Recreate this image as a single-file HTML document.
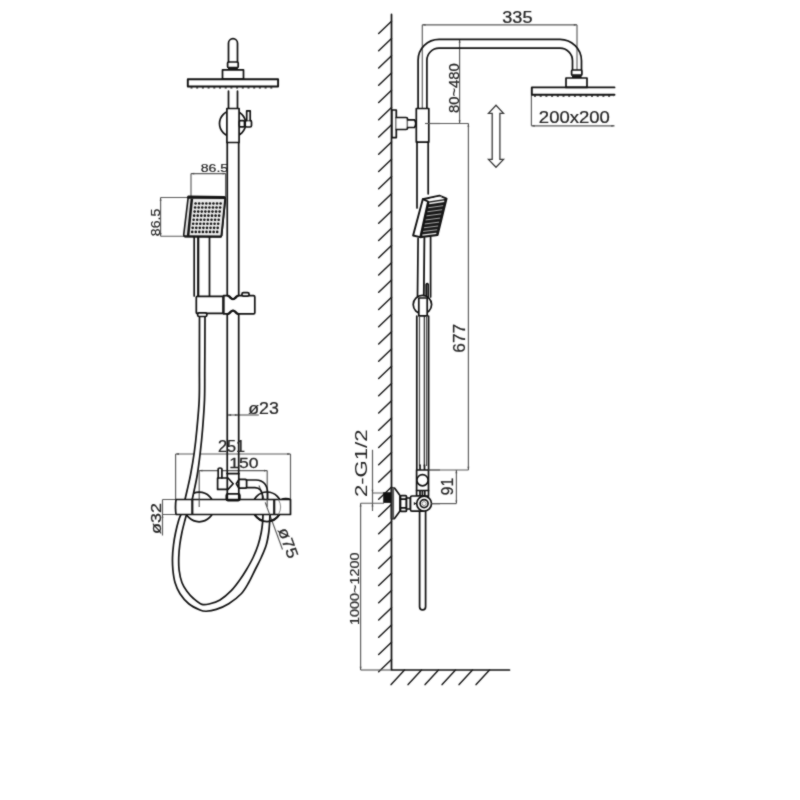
<!DOCTYPE html>
<html lang="en">
<head>
<meta charset="utf-8">
<title>Shower column dimensions</title>
<style>
html,body{margin:0;padding:0;background:#fff}
body{width:800px;height:800px;overflow:hidden}
svg{display:block}
.o{stroke:#101010;stroke-width:1.7;fill:none;stroke-linejoin:round;stroke-linecap:round}
.w{fill:#fff}
.k{stroke-width:1.9}
.h{stroke:#1c1c1c;stroke-width:1.5;fill:none;stroke-linecap:round}
.d{stroke:#5a5a5a;stroke-width:1.15;fill:none}
.a{fill:#444;stroke:none}
.t{font-family:"Liberation Sans",sans-serif;font-size:100px;fill:#222;stroke:#222}
</style>
</head>
<body>
<svg width="800" height="800" viewBox="0 0 800 800">
<defs><filter id="soft" filterUnits="userSpaceOnUse" x="0" y="0" width="800" height="800" color-interpolation-filters="sRGB"><feConvolveMatrix order="3" kernelMatrix="1 2 1 2 14 2 1 2 1" edgeMode="duplicate" preserveAlpha="false"/></filter></defs>
<g id="drawing" filter="url(#soft)">
<rect width="800" height="800" fill="#fff"/>
<g id="front">
<g id="front-dims">
<path class="d" d="M191,173.6 H225.8"/><path class="a" d="M191.00,173.60 L194.20,172.70 L194.20,174.50 Z"/><path class="a" d="M225.80,173.60 L222.60,174.50 L222.60,172.70 Z"/>
<path class="d" d="M191,173.6 V196 M225.6,173.6 V197"/>
<path class="d" d="M160.6,197.5 V236.2"/><path class="a" d="M160.60,197.50 L161.50,200.70 L159.70,200.70 Z"/><path class="a" d="M160.60,236.20 L159.70,233.00 L161.50,233.00 Z"/>
<path class="d" d="M160.6,197.5 H188 M160.6,236.2 H184"/>
<path class="d" d="M228,415 H258.8"/>
<path class="a" d="M227.90,415.00 L231.10,414.10 L231.10,415.90 Z"/>
<path class="a" d="M238.10,415.00 L234.90,415.90 L234.90,414.10 Z"/>
<path class="d" d="M175.6,454 H290.5"/><path class="a" d="M175.60,454.00 L178.80,453.10 L178.80,454.90 Z"/><path class="a" d="M290.50,454.00 L287.30,454.90 L287.30,453.10 Z"/>
<path class="d" d="M175.6,454 V499.5 M290.5,454 V499.5"/>
<path class="d" d="M199.2,470.6 H267.2"/><path class="a" d="M199.20,470.60 L202.40,469.70 L202.40,471.50 Z"/><path class="a" d="M267.20,470.60 L264.00,471.50 L264.00,469.70 Z"/>
<path class="d" d="M199.2,470.6 V507 M267.2,470.6 V507"/>
<path class="d" d="M162.5,499.5 V535.6 M162.5,499.5 H175.5 M162.5,514.5 H175.5"/>
<path class="a" d="M162.50,514.50 L163.40,517.70 L161.60,517.70 Z"/>
<path class="d" d="M259,485.5 L282.5,549.5"/>
</g>
<circle class="o" cx="199.2" cy="507" r="14.8"/>
<circle class="o" cx="267" cy="506.6" r="14.6"/>
<path d="M181.00,514.50 C180.62,515.42 179.65,517.00 178.75,520.00 C177.85,523.00 176.47,528.33 175.60,532.50 C174.72,536.67 174.02,540.83 173.50,545.00 C172.98,549.17 172.60,553.33 172.50,557.50 C172.40,561.67 172.48,565.83 172.90,570.00 C173.32,574.17 173.82,578.54 175.00,582.50 C176.18,586.46 177.71,590.21 180.00,593.75 C182.29,597.29 185.42,601.04 188.75,603.75 C192.08,606.46 197.08,608.75 200.00,610.00 C202.92,611.25 203.54,611.35 206.25,611.25 C208.96,611.15 212.50,610.65 216.25,609.40 C220.00,608.15 224.58,606.36 228.75,603.75 C232.92,601.14 237.92,597.29 241.25,593.75 C244.58,590.21 246.46,586.46 248.75,582.50 C251.04,578.54 252.92,574.17 255.00,570.00 C257.08,565.83 259.38,561.67 261.25,557.50 C263.12,553.33 265.00,549.17 266.25,545.00 C267.50,540.83 268.19,536.25 268.75,532.50 C269.31,528.75 269.39,525.50 269.60,522.50 C269.81,519.50 269.93,515.83 270.00,514.50 L263.00,514.50 C262.93,515.83 262.89,519.50 262.60,522.50 C262.31,525.50 262.00,528.75 261.25,532.50 C260.50,536.25 259.46,540.83 258.10,545.00 C256.74,549.17 255.07,553.33 253.10,557.50 C251.12,561.67 248.48,566.25 246.25,570.00 C244.02,573.75 242.20,576.57 239.70,580.00 C237.20,583.43 234.53,587.27 231.25,590.60 C227.97,593.93 223.54,597.81 220.00,600.00 C216.46,602.19 213.02,603.02 210.00,603.75 C206.98,604.48 204.61,605.23 201.90,604.40 C199.19,603.57 196.25,600.94 193.75,598.75 C191.25,596.56 188.88,593.96 186.90,591.25 C184.93,588.54 183.20,586.04 181.90,582.50 C180.60,578.96 179.62,574.17 179.10,570.00 C178.57,565.83 178.64,561.67 178.75,557.50 C178.86,553.33 179.22,549.17 179.75,545.00 C180.28,540.83 181.03,536.67 181.90,532.50 C182.78,528.33 184.23,523.00 185.00,520.00 C185.77,517.00 186.25,515.42 186.50,514.50 Z" fill="#fff" stroke="none"/>
<path d="M199.50,316.50 C199.49,321.25 199.47,336.08 199.45,345.00 C199.43,353.92 199.44,360.83 199.40,370.00 C199.36,379.17 199.63,390.00 199.20,400.00 C198.77,410.00 197.62,421.25 196.80,430.00 C195.98,438.75 195.30,445.00 194.25,452.50 C193.20,460.00 191.68,468.75 190.50,475.00 C189.32,481.25 188.12,485.92 187.20,490.00 C186.28,494.08 185.37,497.92 185.00,499.50 L192.20,499.50 C192.54,497.92 193.41,494.08 194.25,490.00 C195.09,485.92 196.25,481.25 197.25,475.00 C198.25,468.75 199.38,460.00 200.25,452.50 C201.12,445.00 201.79,438.75 202.50,430.00 C203.21,421.25 204.12,410.00 204.50,400.00 C204.88,390.00 204.68,379.17 204.75,370.00 C204.82,360.83 204.86,353.92 204.90,345.00 C204.94,336.08 204.98,321.25 205.00,316.50 Z" fill="#fff" stroke="none"/>
<path class="o" d="M181.00,514.50 C180.62,515.42 179.65,517.00 178.75,520.00 C177.85,523.00 176.47,528.33 175.60,532.50 C174.72,536.67 174.02,540.83 173.50,545.00 C172.98,549.17 172.60,553.33 172.50,557.50 C172.40,561.67 172.48,565.83 172.90,570.00 C173.32,574.17 173.82,578.54 175.00,582.50 C176.18,586.46 177.71,590.21 180.00,593.75 C182.29,597.29 185.42,601.04 188.75,603.75 C192.08,606.46 197.08,608.75 200.00,610.00 C202.92,611.25 203.54,611.35 206.25,611.25 C208.96,611.15 212.50,610.65 216.25,609.40 C220.00,608.15 224.58,606.36 228.75,603.75 C232.92,601.14 237.92,597.29 241.25,593.75 C244.58,590.21 246.46,586.46 248.75,582.50 C251.04,578.54 252.92,574.17 255.00,570.00 C257.08,565.83 259.38,561.67 261.25,557.50 C263.12,553.33 265.00,549.17 266.25,545.00 C267.50,540.83 268.19,536.25 268.75,532.50 C269.31,528.75 269.39,525.50 269.60,522.50 C269.81,519.50 269.93,515.83 270.00,514.50 M186.50,514.50 C186.25,515.42 185.77,517.00 185.00,520.00 C184.23,523.00 182.78,528.33 181.90,532.50 C181.03,536.67 180.28,540.83 179.75,545.00 C179.22,549.17 178.86,553.33 178.75,557.50 C178.64,561.67 178.57,565.83 179.10,570.00 C179.62,574.17 180.60,578.96 181.90,582.50 C183.20,586.04 184.93,588.54 186.90,591.25 C188.88,593.96 191.25,596.56 193.75,598.75 C196.25,600.94 199.19,603.57 201.90,604.40 C204.61,605.23 206.98,604.48 210.00,603.75 C213.02,603.02 216.46,602.19 220.00,600.00 C223.54,597.81 227.97,593.93 231.25,590.60 C234.53,587.27 237.20,583.43 239.70,580.00 C242.20,576.57 244.02,573.75 246.25,570.00 C248.48,566.25 251.12,561.67 253.10,557.50 C255.07,553.33 256.74,549.17 258.10,545.00 C259.46,540.83 260.50,536.25 261.25,532.50 C262.00,528.75 262.31,525.50 262.60,522.50 C262.89,519.50 262.93,515.83 263.00,514.50 M199.50,316.50 C199.49,321.25 199.47,336.08 199.45,345.00 C199.43,353.92 199.44,360.83 199.40,370.00 C199.36,379.17 199.63,390.00 199.20,400.00 C198.77,410.00 197.62,421.25 196.80,430.00 C195.98,438.75 195.30,445.00 194.25,452.50 C193.20,460.00 191.68,468.75 190.50,475.00 C189.32,481.25 188.12,485.92 187.20,490.00 C186.28,494.08 185.37,497.92 185.00,499.50 M205.00,316.50 C204.98,321.25 204.94,336.08 204.90,345.00 C204.86,353.92 204.82,360.83 204.75,370.00 C204.68,379.17 204.88,390.00 204.50,400.00 C204.12,410.00 203.21,421.25 202.50,430.00 C201.79,438.75 201.12,445.00 200.25,452.50 C199.38,460.00 198.25,468.75 197.25,475.00 C196.25,481.25 195.09,485.92 194.25,490.00 C193.41,494.08 192.54,497.92 192.20,499.50"/>
<path class="o" d="M254.6,514.8 A14.6,14.6 0 0 0 279.4,514.8"/>
<path class="o" d="M228.5,62 V43.2 a4.5,4.5 0 0 1 9,0 V62"/>
<rect class="o" x="227.6" y="62" width="10.6" height="5.6" rx="1"/>
<rect x="228" y="67.2" width="9.8" height="2.6" fill="#1a1a1a"/>
<rect class="o" x="222.5" y="69.8" width="21" height="9.2"/>
<rect class="o k" x="187.8" y="79.2" width="90.3" height="7.3"/>
<path d="M190.5,87.8 H276" stroke="#222" stroke-width="1.3" stroke-dasharray="2 3.7" fill="none"/>
<path class="o" d="M228.5,91.2 V108.5 M237.5,91.2 V108.5"/>
<circle class="o" cx="232.6" cy="123.6" r="13.1"/>
<rect class="o w" x="226.9" y="108.5" width="12.2" height="34"/>
<rect class="o w" x="239.3" y="120.6" width="5.2" height="6.3" rx="1.2"/>
<rect class="o w" x="245.2" y="120.4" width="6.3" height="6.6" rx="1.5"/>
<path class="o w" d="M246.7,120.4 V110.8 H250.2 V120.4"/>
<path class="o" d="M227.25,142.5 V296 M238.7,142.5 V296 M227.25,313.5 V473.6 M238.7,313.5 V473.6"/>
<path d="M188.3,196.4 L224,196.8 Q225.6,197.2 225.4,198.8 L221.6,235.6 Q221.4,236.9 220.2,236.9 L185,236.6 Q183.5,236.4 183.7,234.9 Z" fill="#e2e2e2" stroke="#151515" stroke-width="1.6" stroke-linejoin="round"/>
<path d="M193,199.4 L224.4,199.6 L220.7,235.6 L189.3,235.5 Z" fill="#ececec"/>
<path d="M188.4,197.4 L224.6,197.8" stroke="#151515" stroke-width="2.6" fill="none" stroke-linecap="round"/>
<path d="M191.9,198.6 L188.1,236" stroke="#151515" stroke-width="2.5" fill="none"/>
<path d="M184.8,236.3 L221,236.5" stroke="#151515" stroke-width="2" fill="none" stroke-linecap="round"/>
<path d="M225.2,199 L221.4,236" stroke="#151515" stroke-width="1.9" fill="none"/>
<g fill="#111"><circle cx="195.60" cy="203.50" r="1.3"/><circle cx="199.17" cy="203.50" r="1.3"/><circle cx="202.74" cy="203.50" r="1.3"/><circle cx="206.31" cy="203.50" r="1.3"/><circle cx="209.89" cy="203.50" r="1.3"/><circle cx="213.46" cy="203.50" r="1.3"/><circle cx="217.03" cy="203.50" r="1.3"/><circle cx="220.60" cy="203.50" r="1.3"/><circle cx="195.11" cy="207.56" r="1.3"/><circle cx="198.69" cy="207.56" r="1.3"/><circle cx="202.26" cy="207.56" r="1.3"/><circle cx="205.83" cy="207.56" r="1.3"/><circle cx="209.40" cy="207.56" r="1.3"/><circle cx="212.97" cy="207.56" r="1.3"/><circle cx="216.54" cy="207.56" r="1.3"/><circle cx="220.11" cy="207.56" r="1.3"/><circle cx="194.63" cy="211.61" r="1.3"/><circle cx="198.20" cy="211.61" r="1.3"/><circle cx="201.77" cy="211.61" r="1.3"/><circle cx="205.34" cy="211.61" r="1.3"/><circle cx="208.91" cy="211.61" r="1.3"/><circle cx="212.49" cy="211.61" r="1.3"/><circle cx="216.06" cy="211.61" r="1.3"/><circle cx="219.63" cy="211.61" r="1.3"/><circle cx="194.14" cy="215.67" r="1.3"/><circle cx="197.71" cy="215.67" r="1.3"/><circle cx="201.29" cy="215.67" r="1.3"/><circle cx="204.86" cy="215.67" r="1.3"/><circle cx="208.43" cy="215.67" r="1.3"/><circle cx="212.00" cy="215.67" r="1.3"/><circle cx="215.57" cy="215.67" r="1.3"/><circle cx="219.14" cy="215.67" r="1.3"/><circle cx="193.66" cy="219.73" r="1.3"/><circle cx="197.23" cy="219.73" r="1.3"/><circle cx="200.80" cy="219.73" r="1.3"/><circle cx="204.37" cy="219.73" r="1.3"/><circle cx="207.94" cy="219.73" r="1.3"/><circle cx="211.51" cy="219.73" r="1.3"/><circle cx="215.09" cy="219.73" r="1.3"/><circle cx="218.66" cy="219.73" r="1.3"/><circle cx="193.17" cy="223.79" r="1.3"/><circle cx="196.74" cy="223.79" r="1.3"/><circle cx="200.31" cy="223.79" r="1.3"/><circle cx="203.89" cy="223.79" r="1.3"/><circle cx="207.46" cy="223.79" r="1.3"/><circle cx="211.03" cy="223.79" r="1.3"/><circle cx="214.60" cy="223.79" r="1.3"/><circle cx="218.17" cy="223.79" r="1.3"/><circle cx="192.69" cy="227.84" r="1.3"/><circle cx="196.26" cy="227.84" r="1.3"/><circle cx="199.83" cy="227.84" r="1.3"/><circle cx="203.40" cy="227.84" r="1.3"/><circle cx="206.97" cy="227.84" r="1.3"/><circle cx="210.54" cy="227.84" r="1.3"/><circle cx="214.11" cy="227.84" r="1.3"/><circle cx="217.69" cy="227.84" r="1.3"/><circle cx="192.20" cy="231.90" r="1.3"/><circle cx="195.77" cy="231.90" r="1.3"/><circle cx="199.34" cy="231.90" r="1.3"/><circle cx="202.91" cy="231.90" r="1.3"/><circle cx="206.49" cy="231.90" r="1.3"/><circle cx="210.06" cy="231.90" r="1.3"/><circle cx="213.63" cy="231.90" r="1.3"/><circle cx="217.20" cy="231.90" r="1.3"/></g>
<path class="o" d="M194.2,237 V296 M209.5,237 V296"/>
<path class="o" d="M198.2,237 V296" style="stroke-width:2.2"/>
<rect class="o w" x="196.3" y="296.3" width="27" height="17.1" rx="1"/>
<path class="o w" d="M223.6,295.7 H227 Q229,295.8 230,297.6 Q233,300.6 236,297.6 Q237,295.8 239,295.7 H253.6 Q254.8,295.7 254.8,296.9 V312.7 Q254.8,313.9 253.6,313.9 H239 Q237,313.8 236,312.2 Q233,309.2 230,312.2 Q229,313.8 227,313.9 H223.6 Z"/>
<path d="M223.4,295.7 V313.9" stroke="#1a1a1a" stroke-width="2" fill="none"/>
<path class="o" d="M228.6,296 Q230,296.6 230.6,297.8 Q233,300.4 235.4,297.8 Q236,296.6 237.4,296 M228.6,313.7 Q230,313.1 230.6,312 Q233,309.4 235.4,312 Q236,313.1 237.4,313.7" style="stroke-width:2.3"/>
<rect class="o w" x="241.9" y="292.6" width="7.2" height="3.6" rx="1.6"/>
<rect class="o w" x="197.6" y="312.9" width="9.3" height="3.6" rx="1.6"/>
<path class="o" d="M227.25,473.6 H238.7"/>
<path class="o" d="M227.3,473.6 V499 M238.8,473.6 V499"/>
<path class="o" d="M246.5,480 H256 Q267.3,480.5 267.6,493 V499.5"/>
<path class="o" d="M246.5,487.6 H255 Q262,488 262.6,496 V499.5"/>
<path class="o" d="M239,479.4 H245.4 Q246.6,479.4 246.6,480.6 V487 Q246.6,488.2 245.4,488.2 H239 L236.3,483.8 Z"/>
<path class="o w" d="M218.2,478 V468.8 Q218.2,468 220,468 Q221.9,468 221.9,468.8 V478"/>
<path class="o" d="M217.6,478 H228 L233.2,483.7 L228,489.4 H217.6 Z"/>
<path class="o" d="M281,499.5 Q283,498.2 286,498.3 Q289,498.4 290.4,499.4" style="stroke-width:1.2"/>
<path class="o w" d="M176,499.5 H290.5 V514.5 H176 Q175,507 176,499.5 Z"/>
<path d="M192.3,499.5 V514.5 M274.2,499.5 V514.5" stroke="#1a1a1a" stroke-width="2.2" fill="none"/>
<path d="M278.4,499.5 A14.6,14.6 0 0 1 278.4,514.5" stroke="#777" stroke-width="0.9" fill="none"/>
<path class="d" d="M199.2,499.5 V507 M267.2,499.5 V507 M265.2,502.4 L269.6,514.4"/>
<rect class="o" x="226.3" y="493.8" width="13.6" height="6.8" rx="1.6"/>
<text class="t" stroke-width="1.77" transform="translate(201.30,172.30) scale(0.1409,0.1169) translate(-4.0,-1.0)">86.5</text>
<text class="t" stroke-width="1.14" transform="translate(159.80,235.60) rotate(-90) scale(0.1409,0.1296) translate(-4.0,-1.0)">86.5</text>
<text class="t" stroke-width="1.39" transform="translate(248.80,414.00) scale(0.1776,0.1597) translate(-3.0,-2.0)">ø23</text>
<text class="t" stroke-width="1.48" transform="translate(218.80,451.90) scale(0.1631,0.1592) translate(-5.0,-1.0)">251</text>
<text class="t" stroke-width="1.70" transform="translate(230.60,468.10) scale(0.1755,0.1535) translate(-8.0,-1.0)">150</text>
<text class="t" stroke-width="1.72" transform="translate(161.00,533.50) rotate(-90) scale(0.1799,0.1528) translate(-3.0,-2.0)">ø32</text>
<text class="t" stroke-width="1.40" transform="translate(277.60,530.70) rotate(70) scale(0.1818,0.1592) translate(-3.0,-2.0)">ø75</text>
</g>
<g id="side">
<path class="o" d="M391.5,14.4 V670 H509.5"/>
<path class="h" d="M391.5,21.25 L378.7,33.45 M391.5,38.50 L378.7,50.70 M391.5,55.75 L378.7,67.95 M391.5,73.00 L378.7,85.20 M391.5,90.25 L378.7,102.45 M391.5,107.50 L378.7,119.70 M391.5,124.75 L378.7,136.95 M391.5,142.00 L378.7,154.20 M391.5,159.25 L378.7,171.45 M391.5,176.50 L378.7,188.70 M391.5,193.75 L378.7,205.95 M391.5,211.00 L378.7,223.20 M391.5,228.25 L378.7,240.45 M391.5,245.50 L378.7,257.70 M391.5,262.75 L378.7,274.95 M391.5,280.00 L378.7,292.20 M391.5,297.25 L378.7,309.45 M391.5,314.50 L378.7,326.70 M391.5,331.75 L378.7,343.95 M391.5,349.00 L378.7,361.20 M391.5,366.25 L378.7,378.45 M391.5,383.50 L378.7,395.70 M391.5,400.75 L378.7,412.95 M391.5,418.00 L378.7,430.20 M391.5,435.25 L378.7,447.45 M391.5,452.50 L378.7,464.70 M391.5,469.75 L378.7,481.95 M391.5,487.00 L378.7,499.20 M391.5,504.25 L378.7,516.45 M391.5,521.50 L378.7,533.70 M391.5,538.75 L378.7,550.95 M391.5,556.00 L378.7,568.20 M391.5,573.25 L378.7,585.45 M391.5,590.50 L378.7,602.70 M391.5,607.75 L378.7,619.95 M391.5,625.00 L378.7,637.20 M391.5,642.25 L378.7,654.45 M391.5,659.50 L378.7,671.70 M404.50,670 L391.10,684.6 M421.50,670 L408.10,684.6 M438.50,670 L425.10,684.6 M455.50,670 L442.10,684.6 M472.50,670 L459.10,684.6 M489.50,670 L476.10,684.6 "/>
<g id="side-dims">
<path class="d" d="M422.3,24.8 H577"/><path class="a" d="M422.30,24.80 L425.50,23.90 L425.50,25.70 Z"/><path class="a" d="M577.00,24.80 L573.80,25.70 L573.80,23.90 Z"/>
<path class="d" d="M422.3,24.8 V108 M577,24.8 V70"/>
<path class="d" d="M459.6,39.6 V123.5"/><path class="a" d="M459.60,39.60 L460.50,42.80 L458.70,42.80 Z"/><path class="a" d="M459.60,123.50 L458.70,120.30 L460.50,120.30 Z"/>
<path class="d" d="M425,123.5 H468.5"/>
<path class="d" d="M468.4,123.5 V470"/><path class="a" d="M468.40,123.50 L469.30,126.70 L467.50,126.70 Z"/><path class="a" d="M468.40,470.00 L467.50,466.80 L469.30,466.80 Z"/>
<path class="d" d="M428.5,470 H468.5"/>
<path class="d" d="M456.4,470 V503.6"/><path class="a" d="M456.40,470.00 L457.30,473.20 L455.50,473.20 Z"/><path class="a" d="M456.40,503.60 L455.50,500.40 L457.30,500.40 Z"/>
<path class="d" d="M431.5,503.6 H456.4"/>
<path class="d" d="M531.4,95 V125.8"/>
<path class="d" d="M531.4,125.8 H614.5"/><path class="a" d="M531.40,125.80 L534.60,124.90 L534.60,126.70 Z"/><path class="a" d="M614.50,125.80 L611.30,126.70 L611.30,124.90 Z"/>
<path class="d" d="M372.5,449.8 V511 M372.5,493 H384 M360.6,503.2 H384"/>
<path class="a" d="M372.50,493.00 L371.60,489.80 L373.40,489.80 Z"/>
<path class="a" d="M372.50,503.20 L373.40,506.40 L371.60,506.40 Z"/>
<path class="d" d="M360.6,503.2 V670"/><path class="a" d="M360.60,503.20 L361.50,506.40 L359.70,506.40 Z"/><path class="a" d="M360.60,670.00 L359.70,666.80 L361.50,666.80 Z"/>
<path class="d" d="M360.6,670 H391"/>
</g>
<path class="o" d="M418.1,108.5 V60.3 A21,21 0 0 1 439.1,39.3 H560 A21.5,21.5 0 0 1 581.5,60.8 V70"/>
<path class="o" d="M426.9,108.5 V60.3 A12.1,12.1 0 0 1 439,48.2 H560 A12.5,12.5 0 0 1 572.5,60.7 V70"/>
<rect class="o w" x="571.6" y="70" width="10.3" height="5.2" rx="1"/>
<rect x="572" y="75" width="9.6" height="3" fill="#1a1a1a"/>
<rect class="o w" x="566" y="78" width="21" height="9.4"/>
<path class="o k" d="M614.5,87.4 H531.8 V94.8 H614.5"/>
<path d="M534,96 H614" stroke="#222" stroke-width="1.3" stroke-dasharray="2 3.7" fill="none"/>
<path class="d" d="M496,105.2 L503.5,113.4 H499.9 V159.4 H503.5 L496,167.2 L488.5,159.4 H492.2 V113.4 H488.5 Z" style="stroke:#383838;stroke-width:1.3"/>
<rect class="o w" x="391.9" y="110" width="4.4" height="27.6"/>
<path class="o w" d="M396.3,117.5 H406 Q407.6,117.5 407.6,119 V128 Q407.6,129.5 406,129.5 H396.3"/>
<path class="o w" d="M407.6,119.8 H414.5 Q417,123.6 414.5,127.5 H407.6"/>
<rect class="o w" x="416.3" y="108.5" width="12.5" height="33.6"/>
<path class="d" d="M425,123.5 H440"/>
<path class="o" d="M417,142 V208 M428.2,142 V193.8"/>
<path class="o w" d="M422.8,199.2 L439.4,195.6 L446.6,198.6 L437.6,235 L420,237.2 L413.1,235.5 Z" style="stroke-width:1.9"/>
<path d="M428.1,201.5 L446.4,198.8 L437.5,234.9 L420.4,237 Z" fill="#181818"/>
<path class="o" d="M422.8,199.2 L428.1,201.5 L420.3,237" style="stroke-width:1.9"/>
<path d="M429.22,203.45 L444.25,201.29" stroke="#f4f4f4" stroke-width="1.5" fill="none"/>
<path d="M428.29,207.75 L443.17,205.66" stroke="#b0b0b0" stroke-width="1.0" fill="none"/>
<path d="M427.42,211.75 L442.17,209.73" stroke="#a8a8a8" stroke-width="1.0" fill="none"/>
<path d="M426.53,215.85 L441.14,213.90" stroke="#a8a8a8" stroke-width="1.0" fill="none"/>
<path d="M425.64,219.95 L440.11,218.07" stroke="#a8a8a8" stroke-width="1.0" fill="none"/>
<path d="M424.78,223.95 L439.11,222.13" stroke="#a8a8a8" stroke-width="1.0" fill="none"/>
<path d="M423.95,227.75 L438.16,226.00" stroke="#a8a8a8" stroke-width="1.0" fill="none"/>
<path d="M423.15,231.45 L437.23,229.76" stroke="#b0b0b0" stroke-width="1.0" fill="none"/>
<path d="M422.37,235.05 L436.33,233.42" stroke="#f0f0f0" stroke-width="1.3" fill="none"/>
<path d="M429.6,199.4 L441.6,196.9" stroke="#fff" stroke-width="0.8" fill="none"/>
<path class="o" d="M418.1,238.4 L417.5,297 M430.6,237 V297"/>
<path class="o" d="M424.4,238 L423.8,297" style="stroke-width:1.8"/>
<path class="o" d="M426.2,297 V284.5 Q427.2,282.5 428.2,284.5 V297"/>
<circle class="o w" cx="422.4" cy="304.6" r="9.2"/>
<path class="o w" d="M418.8,298 H427.2 V315.8 H418.8 Z"/>
<path class="o" d="M416.8,316 V470 M428.6,316 V470"/>
<path class="o" d="M424.3,316 V466" style="stroke-width:1.1"/>
<path class="d" d="M419.5,316 V466 M426.6,316 V466" style="stroke:#444"/>
<path class="o" d="M419.6,511 V606.8 Q419.6,609.9 422.6,609.9 Q425.6,609.9 425.6,606.8 V511"/>
<rect x="383.2" y="492.2" width="8.4" height="10.7" fill="#111"/>
<path class="o w" d="M391.5,488 H394.5 L400,495.6 V511 L394.5,518.6 H391.5 Z"/>
<path d="M392.9,488 V518.6" stroke="#555" stroke-width="2.4" fill="none"/>
<rect class="o w" x="400.5" y="495.6" width="6" height="15.8" rx="1"/>
<path class="o" d="M400.5,499.2 H406.5 M400.5,507.8 H406.5"/>
<rect class="o w" x="406.5" y="498" width="4" height="11"/>
<path class="o w" d="M420,465 V470 M424.5,465 V470"/>
<rect class="o w" x="416.6" y="470" width="11.9" height="26.2"/>
<circle class="o w" cx="422.5" cy="480.2" r="5.6"/>
<path class="o" d="M416.6,490.5 H428.5 M420,490.5 V496 M422.4,490.5 V496 M424.8,490.5 V496"/>
<rect class="o w" x="410.5" y="496" width="14" height="15.2" rx="1.5"/>
<circle class="o w" cx="424.1" cy="503.6" r="7.4"/>
<circle class="o" cx="424.1" cy="503.6" r="4"/>
<circle cx="424.1" cy="503.6" r="2" fill="none" stroke="#777" stroke-width="0.8"/>
<path d="M413.8,502 L416.6,503.6 L413.8,505.2 Z" fill="#111"/>
<path class="d" d="M428.5,470 H440 M431.5,503.6 H440"/>
<text class="t" stroke-width="1.54" transform="translate(503.00,22.80) scale(0.1811,0.1563) translate(-4.0,-1.0)">335</text>
<text class="t" stroke-width="1.34" transform="translate(458.80,112.50) rotate(-90) scale(0.1485,0.1380) translate(-4.0,-1.0)">80~480</text>
<text class="t" stroke-width="1.45" transform="translate(539.80,123.00) scale(0.1851,0.1577) translate(-5.0,-1.0)">200x200</text>
<text class="t" stroke-width="1.44" transform="translate(465.50,351.80) rotate(-90) scale(0.1720,0.1592) translate(-5.0,-1.0)">677</text>
<text class="t" stroke-width="1.44" transform="translate(452.90,494.40) rotate(-90) scale(0.1564,0.1606) translate(-5.0,-1.0)">91</text>
<text class="t" stroke-width="0.00" transform="translate(367.60,496.00) rotate(-90) scale(0.2213,0.1716) translate(-5.0,-1.0)">2-G1/2</text>
<text class="t" stroke-width="1.33" transform="translate(358.80,623.80) rotate(-90) scale(0.1440,0.1324) translate(-8.0,-1.0)">1000~1200</text>
</g>
</g>
</svg>
</body>
</html>
